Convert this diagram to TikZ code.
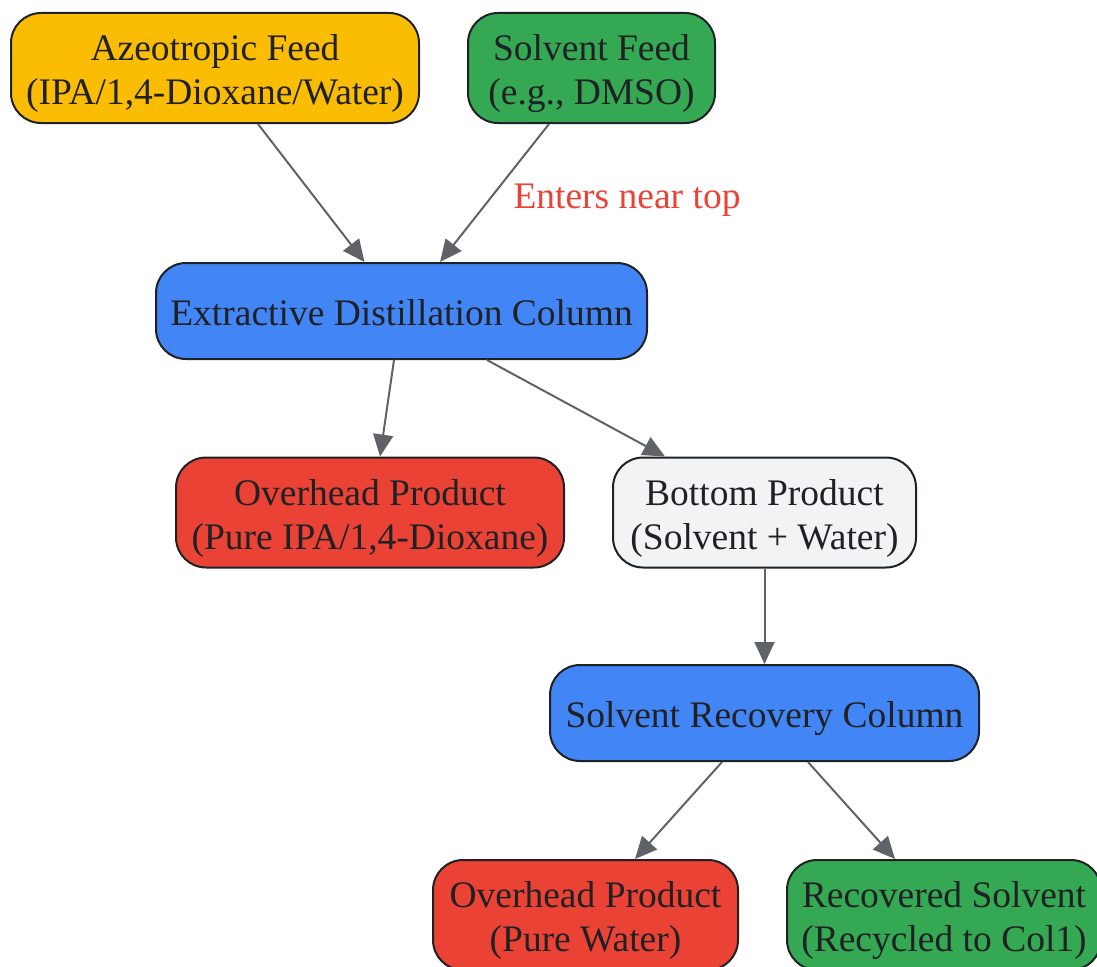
\documentclass[tikz,border=0pt]{standalone}
\usepackage{fontspec}
\setmainfont{Liberation Serif}
\usetikzlibrary{arrows.meta,calc}
\definecolor{cyellow}{HTML}{FBBC04}
\definecolor{cgreen}{HTML}{34A853}
\definecolor{cblue}{HTML}{4285F4}
\definecolor{cred}{HTML}{EA4335}
\definecolor{cgrey}{HTML}{F1F3F4}
\definecolor{cborder}{HTML}{202124}
\definecolor{ctext}{HTML}{202124}
\definecolor{cedge}{HTML}{5F6368}
\newcommand{\topstrut}{\rule{0pt}{37pt}}
\begin{document}
\begin{tikzpicture}[x=1pt,y=-1pt,
  box/.style={draw=cborder,line width=2pt,rounded corners=30pt,align=center,text=ctext,
    font=\fontsize{37.5}{44}\selectfont,inner sep=0pt},
  twoline/.style={box,minimum height=110pt},
  oneline/.style={box,minimum height=96pt,text height=29.5pt,text depth=0pt},
  edge/.style={draw=cedge,line width=2pt,-{Triangle[length=22pt,width=20pt]}},
  elabel/.style={text=cred,font=\fontsize{37.5}{44}\selectfont}]
\clip (0,0) rectangle (1097,966);
\node[twoline,fill=cyellow,minimum width=408pt] (azeo) at (215,68) {\topstrut Azeotropic Feed\\(IPA/1,4-Dioxane/Water)};
\node[twoline,fill=cgreen,minimum width=247pt] (solv) at (591.5,68) {\topstrut Solvent Feed\\(e.g., DMSO)};
\node[oneline,fill=cblue,minimum width=491pt] (edc) at (401.5,311) {Extractive Distillation Column};
\node[twoline,fill=cred,minimum width=388pt] (op1) at (370,512.5) {\topstrut Overhead Product\\(Pure IPA/1,4-Dioxane)};
\node[twoline,fill=cgrey,minimum width=303pt] (bp) at (764.5,512.5) {\topstrut Bottom Product\\(Solvent + Water)};
\node[oneline,fill=cblue,minimum width=429pt] (src) at (764.5,713) {Solvent Recovery Column};
\node[twoline,fill=cred,minimum width=305pt] (op2) at (585.5,915) {\topstrut Overhead Product\\(Pure Water)};
\node[twoline,fill=cgreen,minimum width=314pt] (rs) at (944,915) {\topstrut Recovered Solvent\\(Recycled to Col1)};
\draw[edge] ($(azeo.south)+(43,0)$) -- ($(edc.north)+(-37,0)$);
\draw[edge] ($(solv.south)+(-42.5,0)$) -- ($(edc.north)+(38.5,0)$);
\node[elabel] (lab) at (627,200) {Enters near top};
\draw[edge] ($(edc.south)+(-7.5,0)$) -- ($(op1.north)+(10,0)$);
\draw[edge] ($(edc.south)+(85.5,0)$) -- ($(bp.north)+(-99.5,0)$);
\draw[edge] (bp.south) -- (src.north);
\draw[edge] ($(src.south)+(-42.5,0)$) -- ($(op2.north)+(49.5,0)$);
\draw[edge] ($(src.south)+(43.5,0)$) -- ($(rs.north)+(-49,0)$);
\end{tikzpicture}
\end{document}
